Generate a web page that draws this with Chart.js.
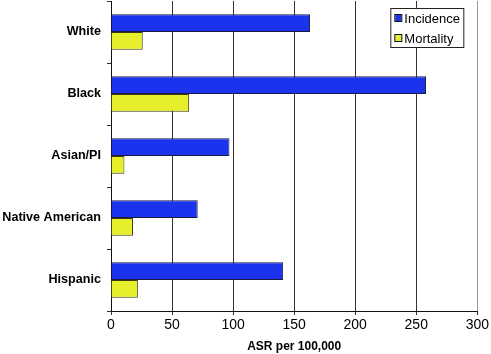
<!DOCTYPE html>
<html>
<head>
<meta charset="utf-8">
<script src="https://cdn.jsdelivr.net/npm/chart.js@4/dist/chart.umd.min.js"></script>
<style>
  html, body { margin: 0; padding: 0; background: #fff; }
  #wrap { width: 491px; height: 354px; }
</style>
</head>
<body>
<div id="wrap"><canvas id="chart" width="491" height="354"></canvas></div>
<script>
const groups = ['White', 'Black', 'Asian/PI', 'Native American', 'Hispanic'];
const incidence = [163, 258, 97, 71, 141];
const mortality = [26, 64, 11, 18, 22];
const xTicks = [0, 50, 100, 150, 200, 250, 300];

const FONT = '"Liberation Sans", Arial, sans-serif';

// legend drawn as a boxed panel in the upper right of the plot
const boxLegend = {
  id: 'boxLegend',
  afterDraw(chart) {
    const ctx = chart.ctx;
    const a = chart.chartArea;
    const x = a.right - 87, y = a.top + 7, w = 73, h = 39;
    ctx.save();
    ctx.fillStyle = '#fff';
    ctx.fillRect(x, y, w, h);
    ctx.strokeStyle = '#222';
    ctx.lineWidth = 1;
    ctx.strokeRect(x + 0.5, y + 0.5, w, h);
    ctx.font = '13px ' + FONT;
    ctx.textBaseline = 'middle';
    chart.data.datasets.forEach((ds, i) => {
      const cy = y + 10 + i * 20;
      ctx.fillStyle = ds.backgroundColor;
      ctx.fillRect(x + 5, cy - 3, 6, 6);
      ctx.strokeStyle = '#111';
      ctx.strokeRect(x + 4.5, cy - 3.5, 7, 7);
      ctx.fillStyle = '#000';
      ctx.fillText(ds.label, x + 14, cy + 1);
    });
    ctx.restore();
  }
};

new Chart(document.getElementById('chart'), {
  type: 'bar',
  data: {
    labels: groups,
    datasets: [
      {
        label: 'Incidence',
        data: incidence,
        backgroundColor: '#1c33ee',
        borderColor: '#1a1a40',
        borderWidth: 1,
        borderSkipped: 'start',
      },
      {
        label: 'Mortality',
        data: mortality,
        backgroundColor: '#e6ef2c',
        borderColor: '#3a3a10',
        borderWidth: 1,
        borderSkipped: 'start',
      },
    ],
  },
  options: {
    indexAxis: 'y',
    responsive: false,
    animation: false,
    layout: { padding: { top: 1, right: 12, left: 0, bottom: 0 } },
    categoryPercentage: 0.57,
    barPercentage: 1.0,
    plugins: {
      legend: { display: false },
      tooltip: { enabled: false },
    },
    scales: {
      x: {
        min: 0,
        max: 300,
        afterBuildTicks: (s) => { s.ticks = xTicks.map((v) => ({ value: v })); },
        afterFit: (s) => { s.height = 43; },
        grid: {
          color: (c) => (c.tick && c.tick.value === 300 ? '#999' : '#333'),
          lineWidth: 1,
          drawTicks: true,
          tickLength: 4,
          tickColor: '#333',
        },
        border: { display: true, color: '#111', width: 1 },
        ticks: {
          color: '#000',
          font: { family: FONT, size: 14 },
          padding: 2,
          maxRotation: 0,
        },
        title: {
          display: true,
          text: 'ASR per 100,000',
          color: '#000',
          font: { family: FONT, size: 12, weight: 'bold' },
          padding: { top: 2, bottom: 0 },
        },
      },
      y: {
        afterFit: (s) => {
          s.width = 111;
          s.paddingTop = 0;
          s.paddingBottom = 0;
        },
        grid: {
          display: true,
          offset: true,
          drawOnChartArea: false,
          tickLength: 4,
          tickColor: '#333',
        },
        border: { display: true, color: '#111', width: 1 },
        ticks: {
          color: '#000',
          font: { family: FONT, size: 12.6, weight: 'bold' },
          padding: 6,
        },
      },
    },
  },
  plugins: [boxLegend],
});
</script>
</body>
</html>
